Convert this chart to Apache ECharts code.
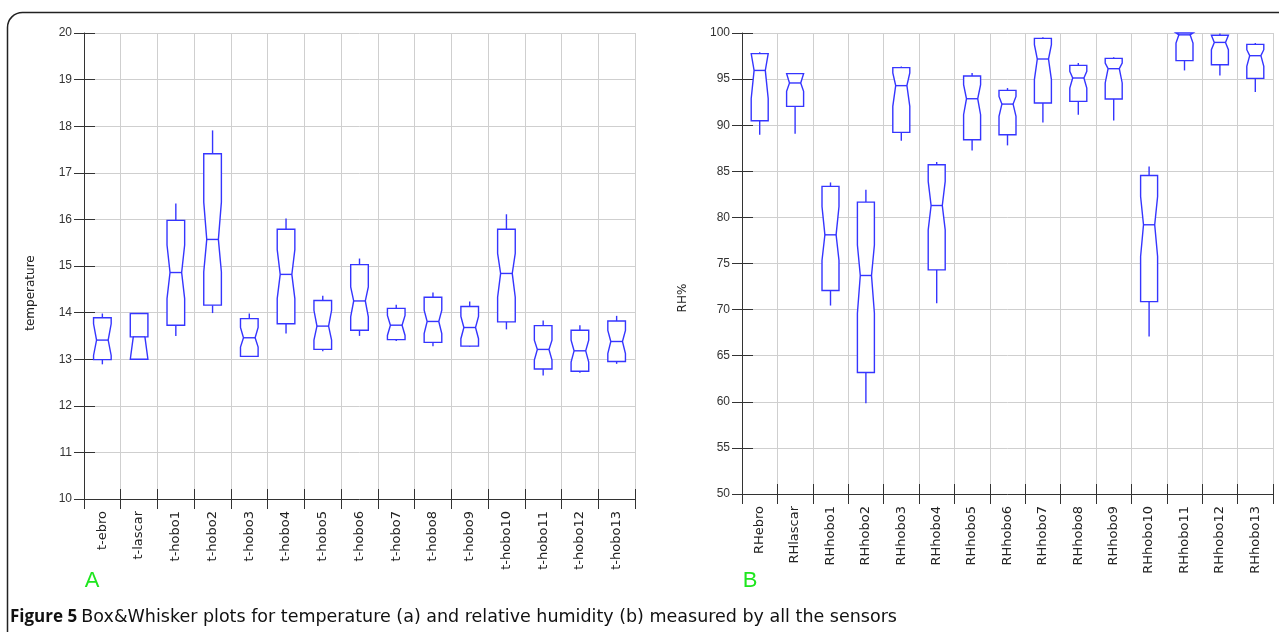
<!DOCTYPE html>
<html><head><meta charset="utf-8">
<script src="https://cdn.jsdelivr.net/npm/echarts@6/dist/echarts.min.js"></script>
<style>html,body{margin:0;padding:0;background:#fff}#c{width:1279px;height:632px}</style>
</head><body><div id="c"></div>
<script>
const tempCategories = ['t-ebro','t-lascar','t-hobo1','t-hobo2','t-hobo3','t-hobo4','t-hobo5','t-hobo6','t-hobo7','t-hobo8','t-hobo9','t-hobo10','t-hobo11','t-hobo12','t-hobo13'];
const tempMin     = [12.89, 13.00, 13.50, 13.99, 13.06, 13.55, 13.17, 13.50, 13.39, 13.28, 13.26, 13.64, 12.65, 12.71, 12.90];
const tempQ1      = [12.99, 13.00, 13.73, 14.16, 13.06, 13.76, 13.21, 13.62, 13.42, 13.36, 13.28, 13.80, 12.79, 12.74, 12.95];
const tempNotchLo = [13.08, 13.00, 14.30, 14.87, 13.26, 14.30, 13.41, 13.91, 13.51, 13.55, 13.44, 14.33, 12.98, 12.94, 13.12];
const tempMedian  = [13.41, 13.48, 14.86, 15.57, 13.46, 14.82, 13.71, 14.25, 13.73, 13.81, 13.68, 14.84, 13.21, 13.18, 13.38];
const tempNotchHi = [13.76, 13.48, 15.45, 16.37, 13.68, 15.35, 14.05, 14.55, 13.94, 14.05, 13.92, 15.27, 13.41, 13.41, 13.62];
const tempQ3      = [13.89, 13.98, 15.98, 17.41, 13.87, 15.79, 14.26, 15.03, 14.09, 14.33, 14.13, 15.79, 13.72, 13.62, 13.82];
const tempMax     = [13.98, 13.98, 16.34, 17.91, 13.98, 16.02, 14.36, 15.16, 14.17, 14.43, 14.24, 16.11, 13.83, 13.73, 13.93];

const rhCategories = ['RHebro','RHlascar','RHhobo1','RHhobo2','RHhobo3','RHhobo4','RHhobo5','RHhobo6','RHhobo7','RHhobo8','RHhobo9','RHhobo10','RHhobo11','RHhobo12','RHhobo13'];
const rhMin     = [88.97, 89.07, 70.44, 59.84, 88.31, 70.70, 87.26, 87.81, 90.30, 91.14, 90.52, 67.07, 95.94, 95.40, 93.60];
const rhQ1      = [90.49, 92.04, 72.07, 63.17, 89.22, 74.31, 88.42, 88.97, 92.40, 92.58, 92.84, 70.87, 97.00, 96.56, 95.08];
const rhNotchLo = [92.90, 93.67, 75.33, 69.60, 92.04, 78.65, 91.14, 90.96, 94.94, 94.03, 94.58, 75.76, 98.90, 98.19, 96.38];
const rhMedian  = [95.94, 94.58, 78.11, 73.70, 94.29, 81.29, 92.87, 92.29, 97.18, 95.12, 96.13, 79.20, 99.80, 98.98, 97.54];
const rhNotchHi = [97.76, 95.59, 81.18, 77.00, 95.66, 83.90, 94.40, 93.12, 98.74, 95.84, 96.75, 82.27, 100.0, 99.75, 98.19];
const rhQ3      = [97.76, 95.59, 83.36, 81.66, 96.24, 85.71, 95.34, 93.78, 99.42, 96.49, 97.25, 84.55, 100.0, 99.75, 98.77];
const rhMax     = [97.90, 95.59, 83.79, 83.00, 96.38, 86.00, 95.66, 94.03, 99.53, 96.75, 97.36, 85.53, 100.0, 99.95, 98.92];

const tempTicks = {min: 10, max: 20, interval: 1};
const rhTicks = {min: 50, max: 100, interval: 5};

const BLUE = '#3535ff';
const GRIDC = '#cfcfcf';
const AXC = '#333';

function buildData(mn, q1, nlo, med, nhi, q3, mx) {
  return mn.map((_, i) => [i, mn[i], q1[i], nlo[i], med[i], nhi[i], q3[i], mx[i]]);
}

function renderItem(params, api) {
  const i = api.value(0);
  const v = [1,2,3,4,5,6,7].map(k => api.value(k));
  const [mn, q1, nlo, med, nhi, q3, mx] = v;
  const bw = api.size([1, 0])[0] * 0.48;
  const cx = api.coord([i, med])[0];
  const y = val => api.coord([i, val])[1];
  const L = cx - bw / 2, R = cx + bw / 2, ind = bw * 0.17;
  const pts = [
    [L, y(q3)], [L, y(Math.min(nhi, q3))], [L + ind, y(med)], [L, y(Math.max(nlo, q1))], [L, y(q1)],
    [R, y(q1)], [R, y(Math.max(nlo, q1))], [R - ind, y(med)], [R, y(Math.min(nhi, q3))], [R, y(q3)]
  ];
  const ls = {stroke: BLUE, lineWidth: 1.4};
  return {
    type: 'group',
    children: [
      {type: 'line', shape: {x1: cx, y1: y(q3), x2: cx, y2: y(mx)}, style: ls},
      {type: 'line', shape: {x1: cx, y1: y(q1), x2: cx, y2: y(mn)}, style: ls},
      {type: 'polygon', shape: {points: pts}, style: {stroke: BLUE, lineWidth: 1.4, fill: '#fff'}},
      {type: 'line', shape: {x1: L + ind, y1: y(med), x2: R - ind, y2: y(med)}, style: ls}
    ]
  };
}

function xAxes(cats, gridIndex) {
  return [
    {type: 'category', gridIndex, position: 'bottom', data: cats, boundaryGap: true,
     axisLine: {show: true, onZero: false, lineStyle: {color: AXC, width: 1}},
     axisTick: {show: true, inside: false, length: 10, interval: 0, lineStyle: {color: AXC}},
     axisLabel: {show: true, rotate: 90, interval: 0, margin: 12, color: '#222', fontFamily: 'DejaVu Sans', fontSize: 13},
     splitLine: {show: true, interval: 0, lineStyle: {color: GRIDC, width: 1}}},
    {type: 'category', gridIndex, position: 'bottom', offset: 0, data: cats, boundaryGap: true,
     axisLine: {show: false, onZero: false},
     axisTick: {show: true, inside: true, length: 10, interval: 0, lineStyle: {color: AXC}},
     axisLabel: {show: false}, splitLine: {show: false}}
  ];
}
function yAxes(t, gridIndex) {
  return [
    {type: 'value', gridIndex, position: 'left', min: t.min, max: t.max, interval: t.interval,
     axisLine: {show: true, onZero: false, lineStyle: {color: AXC, width: 1}},
     axisTick: {show: true, inside: false, length: 10, lineStyle: {color: AXC}},
     axisLabel: {show: true, margin: 12, color: '#333', fontFamily: 'Liberation Sans', fontSize: 12},
     splitLine: {show: true, lineStyle: {color: GRIDC, width: 1}}},
    {type: 'value', gridIndex, position: 'left', offset: 0, min: t.min, max: t.max, interval: t.interval,
     axisLine: {show: false, onZero: false},
     axisTick: {show: true, inside: true, length: 11, lineStyle: {color: AXC}},
     axisLabel: {show: false}, splitLine: {show: false}}
  ];
}

const chart = echarts.init(document.getElementById('c'), null, {renderer: 'canvas'});
chart.setOption({
  animation: false,
  backgroundColor: '#fff',
  grid: [
    {left: 84, top: 33, width: 551, height: 466},
    {left: 742, top: 33, width: 531, height: 461}
  ],
  xAxis: [...xAxes(tempCategories, 0), ...xAxes(rhCategories, 1)],
  yAxis: [...yAxes(tempTicks, 0), ...yAxes(rhTicks, 1)],
  series: [
    {type: 'custom', xAxisIndex: 0, yAxisIndex: 0, renderItem, clip: false,
     encode: {x: 0, y: [1,2,3,4,5,6,7]},
     data: buildData(tempMin, tempQ1, tempNotchLo, tempMedian, tempNotchHi, tempQ3, tempMax)},
    {type: 'custom', xAxisIndex: 2, yAxisIndex: 2, renderItem, clip: false,
     encode: {x: 0, y: [1,2,3,4,5,6,7]},
     data: buildData(rhMin, rhQ1, rhNotchLo, rhMedian, rhNotchHi, rhQ3, rhMax)}
  ],
  graphic: [
    {type: 'rect', z: -1, shape: {x: 7.5, y: 12.5, width: 1300, height: 660, r: 15},
     style: {fill: 'none', stroke: '#222', lineWidth: 1.5}},
    {type: 'text', x: 31, y: 293, rotation: Math.PI / 2,
     style: {text: 'temperature', font: '12px "DejaVu Sans"', fill: '#222', align: 'center', verticalAlign: 'middle'}},
    {type: 'text', x: 683, y: 298, rotation: Math.PI / 2,
     style: {text: 'RH%', font: '12px "DejaVu Sans"', fill: '#222', align: 'center', verticalAlign: 'middle'}},
    {type: 'text', x: 92, y: 581,
     style: {text: 'A', font: '22px "Liberation Sans"', fill: '#1ee61e', align: 'center', verticalAlign: 'middle'}},
    {type: 'text', x: 750, y: 581,
     style: {text: 'B', font: '22px "Liberation Sans"', fill: '#1ee61e', align: 'center', verticalAlign: 'middle'}},
    {type: 'text', x: 10, y: 617,
     style: {text: '{b|Figure 5} {r|Box&Whisker plots for temperature (a) and relative humidity (b) measured by all the sensors}',
       font: '16px "Open Sans"', fill: '#111', verticalAlign: 'middle',
       rich: {b: {fontWeight: 'bold', fontSize: 17, fontFamily: 'Open Sans', fill: '#111'},
              r: {fontSize: 17.5, fontFamily: 'DejaVu Sans', fill: '#111'}}}}
  ]
});
</script></body></html>
